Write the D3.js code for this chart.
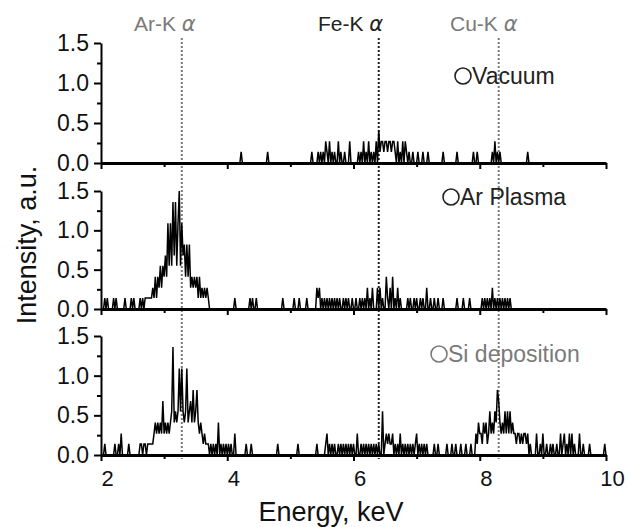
<!DOCTYPE html>
<html>
<head>
<meta charset="utf-8">
<script src="https://cdn.jsdelivr.net/npm/d3@7"></script>
<style>
  body { margin: 0; background: #fff; }
  svg text { font-family: "Liberation Sans", Arial, sans-serif; }
</style>
</head>
<body>
<div id="container"></div>
<script>
/* chart values */
const energyMajor = [2, 4, 6, 8, 10]
const energyMinor = [3, 5, 7, 9]
const intensityMajor = [0, 0.5, 1.0, 1.5]
const intensityMinor = [0.25, 0.75, 1.25]
const panelNames = ["Vacuum", "Ar Plasma", "Si deposition"]
const lineNames = ["Ar-K", "Fe-K", "Cu-K"]
const lineEnergies = [3.28, 6.40, 8.30]

/* [energy keV, intensity a.u.] for channels that are not empty */
const vacuumSpectrum = [[4.22,0.14],[4.64,0.14],[5.34,0.14],[5.44,0.14],[5.48,0.14],[5.52,0.14],[5.56,0.27],[5.58,0.14],
  [5.62,0.27],[5.66,0.14],[5.70,0.14],[5.76,0.27],[5.80,0.14],[5.86,0.14],[5.94,0.27],[6.08,0.14],[6.12,0.14],[6.16,0.27],
  [6.20,0.14],[6.24,0.27],[6.28,0.14],[6.32,0.14],[6.36,0.27],[6.40,0.41],[6.42,0.14],[6.44,0.27],[6.46,0.27],[6.48,0.14],
  [6.50,0.27],[6.52,0.27],[6.54,0.14],[6.56,0.27],[6.58,0.27],[6.60,0.14],[6.62,0.27],[6.64,0.27],[6.66,0.14],[6.70,0.27],
  [6.74,0.14],[6.78,0.27],[6.82,0.27],[6.84,0.14],[6.88,0.14],[6.94,0.14],[7.02,0.14],[7.10,0.14],[7.18,0.14],[7.42,0.14],
  [7.64,0.14],[7.90,0.14],[7.96,0.14],[8.20,0.14],[8.24,0.27],[8.28,0.14],[8.32,0.14],[8.76,0.14]]

const plasmaSpectrum = [[2.06,0.14],[2.10,0.14],[2.20,0.14],[2.24,0.14],[2.38,0.14],[2.48,0.14],[2.52,0.14],[2.62,0.14],
  [2.66,0.14],[2.70,0.14],[2.72,0.14],[2.74,0.14],[2.76,0.14],[2.78,0.14],
  [2.80,0.14],[2.82,0.27],[2.84,0.14],[2.86,0.41],[2.88,0.14],[2.90,0.41],[2.92,0.27],[2.94,0.55],[2.96,0.27],[2.98,0.55],
  [3.00,0.41],[3.02,0.68],[3.04,0.41],[3.06,1.09],[3.08,0.55],[3.10,1.09],[3.12,0.55],[3.14,1.36],[3.16,0.68],[3.18,1.36],
  [3.20,0.55],[3.22,1.09],[3.24,1.50],[3.26,0.55],[3.28,1.09],[3.30,0.68],[3.32,0.82],[3.34,0.41],[3.36,0.82],[3.38,0.41],
  [3.40,0.82],[3.42,0.27],[3.44,0.41],[3.46,0.27],[3.48,0.41],[3.50,0.27],[3.52,0.41],[3.54,0.14],[3.56,0.41],[3.58,0.14],
  [3.60,0.27],[3.62,0.14],[3.64,0.27],[3.66,0.14],[3.68,0.27],[3.70,0.14],
  [4.12,0.14],[4.36,0.14],[4.40,0.14],[4.46,0.14],[4.88,0.14],[5.06,0.14],[5.14,0.14],[5.26,0.14],[5.42,0.27],[5.44,0.14],
  [5.46,0.27],[5.50,0.14],[5.54,0.14],[5.58,0.14],[5.62,0.14],[5.66,0.14],[5.70,0.14],[5.74,0.14],[5.78,0.14],[5.84,0.14],
  [5.88,0.14],[5.92,0.14],[5.98,0.14],[6.04,0.14],[6.10,0.14],[6.14,0.14],[6.18,0.14],[6.22,0.27],[6.26,0.14],[6.30,0.27],
  [6.38,0.27],[6.42,0.27],[6.46,0.14],[6.52,0.41],[6.54,0.14],[6.58,0.27],[6.62,0.41],[6.66,0.14],[6.70,0.27],[6.74,0.14],
  [6.86,0.14],[6.90,0.14],[6.96,0.14],[7.00,0.14],[7.06,0.14],[7.10,0.14],[7.16,0.27],[7.22,0.14],[7.28,0.14],[7.34,0.14],
  [7.42,0.14],[7.64,0.14],[7.74,0.14],[7.84,0.14],[8.04,0.14],[8.08,0.14],[8.12,0.14],[8.16,0.14],[8.20,0.27],[8.24,0.14],
  [8.28,0.14],[8.32,0.14],[8.36,0.14],[8.40,0.14],[8.44,0.14],[8.48,0.14]]

const siSpectrum = [[2.06,0.14],[2.22,0.14],[2.28,0.14],[2.32,0.27],[2.44,0.14],[2.62,0.14],[2.64,0.14],[2.68,0.14],
  [2.70,0.14],[2.74,0.14],[2.76,0.14],[2.78,0.14],[2.80,0.14],[2.82,0.14],
  [2.84,0.27],[2.86,0.41],[2.88,0.27],[2.90,0.41],[2.92,0.27],[2.94,0.41],[2.96,0.27],[2.98,0.68],[3.00,0.27],[3.02,0.41],
  [3.04,0.27],[3.06,0.41],[3.08,0.27],[3.10,0.41],[3.12,0.55],[3.14,1.36],[3.16,0.41],[3.18,0.55],[3.20,0.41],[3.22,0.55],
  [3.24,1.09],[3.26,0.55],[3.28,1.09],[3.30,0.55],[3.32,0.41],[3.34,0.55],[3.36,1.09],[3.38,0.41],[3.40,0.55],[3.42,0.68],
  [3.44,0.41],[3.46,0.82],[3.48,0.41],[3.50,0.55],[3.52,0.82],[3.54,0.41],[3.56,0.27],[3.58,0.41],[3.60,0.27],[3.62,0.14],
  [3.64,0.27],[3.66,0.14],[3.68,0.14],[3.70,0.14],[3.74,0.14],[3.78,0.14],[3.82,0.14],
  [3.86,0.41],[3.90,0.14],[3.94,0.14],[3.98,0.14],[4.02,0.14],[4.06,0.14],[4.12,0.27],[4.30,0.14],[4.38,0.14],[4.80,0.14],
  [5.12,0.14],[5.42,0.14],[5.56,0.14],[5.58,0.27],[5.62,0.14],[5.66,0.14],[5.70,0.14],[5.76,0.14],[5.80,0.14],[5.84,0.14],
  [5.88,0.14],[5.92,0.14],[5.96,0.14],[6.00,0.14],[6.06,0.27],[6.12,0.14],[6.16,0.14],[6.20,0.14],[6.24,0.14],[6.28,0.14],
  [6.32,0.14],[6.36,0.14],[6.40,0.14],[6.46,0.55],[6.50,0.14],[6.52,0.27],[6.54,0.14],[6.56,0.27],[6.58,0.14],[6.60,0.14],
  [6.62,0.27],[6.66,0.14],[6.70,0.14],[6.74,0.27],[6.78,0.14],[6.82,0.14],[6.86,0.14],[6.90,0.14],[6.94,0.14],[6.98,0.14],
  [7.00,0.27],[7.04,0.14],[7.08,0.14],[7.12,0.14],[7.16,0.14],[7.28,0.14],[7.34,0.14],[7.48,0.14],[7.56,0.14],[7.62,0.14],
  [7.70,0.14],[7.78,0.14],[7.86,0.14],
  [7.94,0.27],[7.96,0.14],[7.98,0.41],[8.00,0.27],[8.02,0.27],[8.04,0.14],[8.06,0.41],[8.08,0.27],[8.10,0.41],[8.12,0.14],
  [8.14,0.27],[8.16,0.55],[8.18,0.27],[8.20,0.41],[8.22,0.27],[8.24,0.55],[8.26,0.41],[8.28,0.82],[8.30,0.68],[8.32,0.41],
  [8.34,0.27],[8.36,0.41],[8.38,0.27],[8.40,0.55],[8.42,0.27],[8.44,0.55],[8.46,0.27],[8.48,0.55],[8.50,0.27],[8.52,0.41],
  [8.54,0.27],[8.56,0.27],[8.58,0.14],[8.60,0.27],[8.62,0.27],[8.64,0.14],[8.66,0.27],[8.68,0.14],[8.70,0.27],[8.72,0.27],
  [8.74,0.14],[8.76,0.27],[8.80,0.14],
  [8.90,0.27],[8.96,0.14],[9.00,0.27],[9.06,0.14],[9.12,0.14],[9.16,0.14],[9.22,0.14],[9.28,0.27],[9.32,0.14],[9.34,0.27],
  [9.38,0.14],[9.42,0.27],[9.46,0.27],[9.50,0.14],[9.58,0.27],[9.64,0.14],[9.74,0.14],[9.98,0.14]]

const spectra = [vacuumSpectrum, plasmaSpectrum, siSpectrum]

/* layout */
const width = 629
const height = 527
const left = 101
const right = 606
const panelTop = [43, 191, 336]
const panelBottom = [163, 309, 455]
const channelWidth = 0.02
const GREY = "#7a7a7a"
const lineColors = [GREY, "#222", GREY]
const legendColors = ["#222", "#222", GREY]
const legendPos = [[463, 76], [451, 197], [439, 354]]

const svg = d3.select("#container")
              .append("svg")
              .attr("width", width)
              .attr("height", height);

const x = d3.scaleLinear().domain([2, 10]).range([left, right]);

/* fill a full channel grid from the sparse list, empty channels are 0 */
const toChannels = (spectrum) => {
  const lookup = new Map(spectrum.map((d) => [Math.round(d[0] / channelWidth), d[1]]));
  const n = Math.round((10 - 2) / channelWidth);
  return d3.range(n + 1).map((i) => {
    const key = Math.round(2 / channelWidth) + i;
    return [key * channelWidth, lookup.get(key) || 0];
  });
}

/* dotted lines for the emission energies */
svg.selectAll(".kline")
   .data(lineEnergies)
   .enter()
   .append("line")
   .attr("class", "kline")
   .attr("x1", (d) => x(d))
   .attr("x2", (d) => x(d))
   .attr("y1", 38)
   .attr("y2", 459)
   .attr("stroke", (d, i) => lineColors[i])
   .attr("stroke-width", 2)
   .attr("stroke-dasharray", "2,2");

const lineStarts = [134, 318, 450];
lineNames.forEach((name, i) => {
  const t = svg.append("text")
    .attr("x", lineStarts[i])
    .attr("y", 31)
    .attr("font-size", 21)
    .attr("fill", lineColors[i]);
  t.append("tspan").text(name + " ");
  t.append("tspan").attr("font-style", "italic").attr("font-family", "DejaVu Sans").text("α");
});

spectra.forEach((spectrum, p) => {
  const y = d3.scaleLinear().domain([0, 1.5]).range([panelBottom[p], panelTop[p]]);
  const g = svg.append("g");

  const line = d3.line()
                 .x((d) => x(d[0]))
                 .y((d) => y(d[1]));
  g.append("path")
   .datum(toChannels(spectrum))
   .attr("d", line)
   .attr("fill", "none")
   .attr("stroke", "#000")
   .attr("stroke-width", 1.5)
   .attr("stroke-linejoin", "miter");

  /* y axis, major then minor ticks */
  const yAxis = g.append("g")
                 .attr("transform", "translate(" + left + ",0)")
                 .call(d3.axisLeft(y).tickValues(intensityMajor).tickSize(7).tickSizeOuter(0)
                         .tickPadding(5).tickFormat(d3.format(".1f")));
  yAxis.select(".domain").attr("stroke-width", 2);
  yAxis.selectAll(".tick line").attr("stroke-width", 2);
  yAxis.selectAll("text").attr("font-size", 23).attr("fill", "#111")
       .style("font-family", "Liberation Sans, Arial, sans-serif");
  g.append("g")
   .attr("transform", "translate(" + left + ",0)")
   .call(d3.axisLeft(y).tickValues(intensityMinor).tickSize(4).tickFormat(""))
   .call((a) => a.select(".domain").remove())
   .selectAll(".tick line").attr("stroke-width", 2);

  /* x axis */
  const xAxis = g.append("g")
                 .attr("transform", "translate(0," + panelBottom[p] + ")")
                 .call(d3.axisBottom(x).tickValues(energyMajor).tickSize(6).tickSizeOuter(0)
                         .tickPadding(9).tickFormat(p === 2 ? d3.format("d") : ""));
  xAxis.select(".domain").attr("stroke-width", 3);
  xAxis.selectAll(".tick line").attr("stroke-width", 2);
  xAxis.selectAll("text").attr("font-size", 22).attr("dx", 6).attr("fill", "#111")
       .style("font-family", "Liberation Sans, Arial, sans-serif");
  g.append("g")
   .attr("transform", "translate(0," + panelBottom[p] + ")")
   .call(d3.axisBottom(x).tickValues(energyMinor).tickSize(4).tickFormat(""))
   .call((a) => a.select(".domain").remove())
   .selectAll(".tick line").attr("stroke-width", 2);

  /* sample legend */
  g.append("circle")
   .attr("cx", legendPos[p][0])
   .attr("cy", legendPos[p][1])
   .attr("r", 8)
   .attr("fill", "none")
   .attr("stroke", legendColors[p])
   .attr("stroke-width", 1.6);
  g.append("text")
   .attr("x", legendPos[p][0] + 9)
   .attr("y", legendPos[p][1] + 8)
   .attr("font-size", 23)
   .attr("fill", legendColors[p])
   .text(panelNames[p]);
});

/* axis titles */
svg.append("text")
   .attr("transform", "rotate(-90)")
   .attr("x", -245)
   .attr("y", 36)
   .attr("text-anchor", "middle")
   .attr("font-size", 27)
   .attr("fill", "#111")
   .text("Intensity, a.u.");
svg.append("text")
   .attr("x", 331)
   .attr("y", 521)
   .attr("text-anchor", "middle")
   .attr("font-size", 27)
   .attr("fill", "#111")
   .text("Energy, keV");
</script>
</body>
</html>
